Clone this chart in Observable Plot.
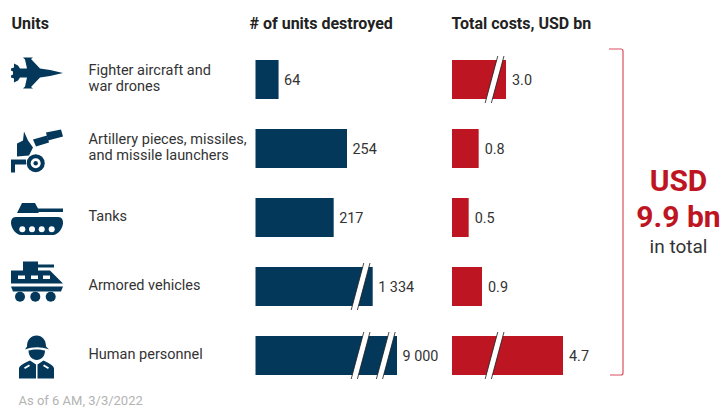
<!DOCTYPE html>
<html>
<head>
<meta charset="utf-8">
<script src="https://cdn.jsdelivr.net/npm/d3@7"></script>
<script src="https://cdn.jsdelivr.net/npm/@observablehq/plot@0.6"></script>
<style>
  html, body { margin: 0; padding: 0; background: #fff; }
  #chart { position: relative; width: 723px; height: 408px; overflow: hidden; }
  #chart svg { position: absolute; left: 0; top: 0; background: transparent; }
</style>
</head>
<body>
<div id="chart"></div>
<script>
// Reported Russian losses by unit type: counts and estimated cost
const units = ["Fighter aircraft and war drones", "Artillery pieces, missiles, and missile launchers", "Tanks", "Armored vehicles", "Human personnel"];
const unitLabels = ["Fighter aircraft and\nwar drones", "Artillery pieces, missiles,\nand missile launchers", "Tanks", "Armored vehicles", "Human personnel"];
const destroyed = [64, 254, 217, 1334, 9000];
const costs = [3.0, 0.8, 0.5, 0.9, 4.7];

// Where each bar's axis is interrupted
const destroyedBreaks = [[3, 825], [4, 825], [4, 5467]];
const costBreaks = [[0, 2.0], [4, 2.0]];

// Broken axes: each stretch between knots has its own scale
const destroyedKnots = [0, 254, 1334, 9000];
const costKnots = [0, 0.9, 3.0, 4.7];

const NAVY = "#03385b";
const RED = "#bd1622";
const FONT = "Roboto, sans-serif";
const INK = "#333333";

const W = 723, H = 408;
const yScale = {type: "band", domain: units, range: [44.35, 390.85], paddingInner: 0.44, paddingOuter: 0.22, axis: null};
const base = {width: W, height: H, margin: 0, style: {background: "transparent", fontFamily: FONT}};

const svgEl = (name) => document.createElementNS("http://www.w3.org/2000/svg", name);

// Slanted white gaps that mark a broken bar
function breakMark(breaks) {
  return (index, {x, y}) => {
    const g = d3.select(svgEl("g"));
    const bw = y.bandwidth();
    for (const [row, value] of breaks) {
      const cx = x(value), top = y(units[row]) - 4, bottom = y(units[row]) + bw + 4;
      const slant = 6.3, half = 3.1;
      g.append("polygon")
        .attr("points", [[cx - half + slant, top], [cx + half + slant, top], [cx + half - slant, bottom], [cx - half - slant, bottom]].join(" "))
        .attr("fill", "#fff");
      for (const side of [-half, half]) {
        g.append("line")
          .attr("x1", cx + side + slant).attr("y1", top)
          .attr("x2", cx + side - slant).attr("y2", bottom)
          .attr("stroke", "#1a1a1a").attr("stroke-width", 0.8);
      }
    }
    return g.node();
  };
}

// Pictograms for the unit column, each drawn around its row centre
const icons = [
  {cy: 79, shapes: [
    ["path", "M63 72.5 L50 69.5 L40 68 L31 58.5 L33 57 L23 57 L25 59 L27 68 L20 68 L18 65 L14 63 L14 67 L11 68 L11 70 L13 71 L13 74 L11 75 L11 77 L14 78 L14 82 L18 80 L20 77 L27 77 L25 86 L23 88 L33 88 L31 86.5 L40 77 L50 75.5 Z"]
  ]},
  {cy: 148, shapes: [
    ["path", "M24 131 L28 140 L33 147 L29 155 L17 156 L17 143 L23 140 Z"],
    ["path", "M33 139 L47 135 L49 142 L36 146 Z"],
    ["path", "M46 132 L61 129 L63 136 L48 140 Z"],
    ["path", "M11 159 L26 159 L26 164 L15 164 L15 172 L11 172 Z"],
    ["circle", 35.7, 162.7, 9, NAVY],
    ["circle", 35.7, 162.7, 5, "#fff"],
    ["circle", 35.7, 162.7, 2.2, NAVY]
  ]},
  {cy: 217.5, shapes: [
    ["path", "M17 213 L22 203 L35 203 L38 208.5 L63 208.5 L63 212 L39 212 L38 213 Z"],
    ["path", "M16 217 L58 217 C62 217 63 220 63 223 C63 228 58 235 53 235 L21 235 C16 235 11 228 11 223 C11 220 12 217 16 217 Z"],
    ["circle", 22.3, 229.3, 3, "#fff"],
    ["circle", 32, 229.3, 3, "#fff"],
    ["circle", 41.7, 229.3, 3, "#fff"],
    ["circle", 51.7, 229.3, 3, "#fff"]
  ]},
  {cy: 287, shapes: [
    ["path", "M11 271 L23 271 L23 262 L38 262 L38 265 L54 265 L54 268 L38 268 L38 271 L50 271 L63 284 L11 284 Z"],
    ["path", "M11 287 L63 287 L61 292 L13 292 Z"],
    ["rect", 18, 276, 7, 3.5],
    ["rect", 31, 276, 7, 3.5],
    ["rect", 43, 276, 7, 3.5],
    ["circle", 20, 297.3, 5, NAVY],
    ["circle", 35.3, 297.3, 5, NAVY],
    ["circle", 50.7, 297.3, 5, NAVY]
  ]},
  {cy: 356, shapes: [
    ["path", "M25 350 L27 347 C27 340 31 336 36.7 336 C42 336 46 340 46 347 L49 350 C41 347 33 347 25 350 Z"],
    ["path", "M28.5 351 C33 349.5 40 349.5 45 351 C45 357 41 360.5 36.7 360.5 C32.5 360.5 28.5 357 28.5 351 Z"],
    ["path", "M19 379 L19 369 C19 366 24 364 30 361 L36 365 L36 379 Z"],
    ["path", "M54 379 L54 369 C54 366 49 364 43.5 361 L37.5 365 L37.5 379 Z"],
    ["path", "M24 368 L29 365 L30 366.5 L25 369.5 Z", "#fff"],
    ["path", "M49 368 L44 365 L43 366.5 L48 369.5 Z", "#fff"]
  ]}
];

function iconMark(index, {y}) {
  const root = d3.select(svgEl("g"));
  const bw = y.bandwidth();
  icons.forEach((icon, i) => {
    const g = root.append("g")
      .attr("transform", `translate(0,${y(units[i]) + bw / 2 - icon.cy})`);
    for (const s of icon.shapes) {
      if (s[0] === "path") g.append("path").attr("d", s[1]).attr("fill", s[2] ?? NAVY);
      if (s[0] === "circle") g.append("circle").attr("cx", s[1]).attr("cy", s[2]).attr("r", s[3]).attr("fill", s[4]);
      if (s[0] === "rect") g.append("rect").attr("x", s[1]).attr("y", s[2]).attr("width", s[3]).attr("height", s[4]).attr("fill", "#fff");
    }
  });
  return root.node();
}

// Bracket that gathers the cost column into its total
function bracketMark(index, {y}) {
  const top = y(units[0]) - 11, bottom = y(units[4]) + y.bandwidth();
  const p = d3.path();
  p.moveTo(609, top); p.lineTo(621, top); p.quadraticCurveTo(623, top, 623, top + 2);
  p.lineTo(623, bottom - 2); p.quadraticCurveTo(623, bottom, 621, bottom); p.lineTo(610, bottom);
  return d3.select(svgEl("path")).attr("d", p.toString())
    .attr("fill", "none").attr("stroke", "#d9505e").attr("stroke-width", 1.2).node();
}

const spaced = d3.formatLocale({decimal: ".", thousands: " ", grouping: [3], currency: ["", ""]}).format(",");
const rows = units.map((unit, i) => ({unit, label: unitLabels[i], destroyed: destroyed[i], cost: costs[i]}));
const total = d3.sum(costs).toFixed(1);

const note = (text, dx, dy, opts = {}) => Plot.text([text], {
  frameAnchor: "top-left", textAnchor: "start", lineAnchor: "top",
  dx, dy, fontSize: 16, fill: "#222", ...opts
});

// Labels, pictograms, headers and the total
const frame = Plot.plot({
  ...base,
  y: yScale,
  marks: [
    iconMark,
    Plot.text(rows, {y: "unit", text: "label", frameAnchor: "left", textAnchor: "start", dx: 88, dy: -2.5, fontSize: 14.5, fill: INK, lineHeight: 1.14}),
    note("Units", 11, 17, {fontWeight: 700}),
    note("# of units destroyed", 249, 17, {fontWeight: 700}),
    note("Total costs, USD bn", 451, 17, {fontWeight: 700}),
    note("As of 6 AM, 3/3/2022", 18, 395.5, {fill: "#b3b3b3", fontSize: 13}),
    bracketMark,
    Plot.text([`USD\n${total} bn`], {frameAnchor: "top-left", dx: 678, dy: 165, lineAnchor: "top", textAnchor: "middle", fontSize: 30, fontWeight: 700, fill: RED, lineHeight: 1.2}),
    Plot.text(["in total"], {frameAnchor: "top-left", dx: 678, dy: 239, lineAnchor: "top", textAnchor: "middle", fontSize: 19, fill: INK})
  ]
});

// Units destroyed
const unitsPlot = Plot.plot({
  ...base,
  x: {type: "linear", domain: destroyedKnots, range: [255.5, 347, 372.7, 397], axis: null},
  y: yScale,
  marks: [
    Plot.barX(rows, {x: "destroyed", y: "unit", fill: NAVY}),
    breakMark(destroyedBreaks),
    Plot.text(rows, {x: "destroyed", y: "unit", text: (d) => spaced(d.destroyed), textAnchor: "start", dx: 5, fontSize: 14.4, fill: INK})
  ]
});

// Total costs
const costPlot = Plot.plot({
  ...base,
  x: {type: "linear", domain: costKnots, range: [452, 482, 506, 563], axis: null},
  y: yScale,
  marks: [
    Plot.barX(rows, {x: "cost", y: "unit", fill: RED}),
    breakMark(costBreaks),
    Plot.text(rows, {x: "cost", y: "unit", text: (d) => d.cost.toFixed(1), textAnchor: "start", dx: 5.5, fontSize: 14.4, fill: INK})
  ]
});

document.getElementById("chart").append(frame, unitsPlot, costPlot);
</script>
</body>
</html>
